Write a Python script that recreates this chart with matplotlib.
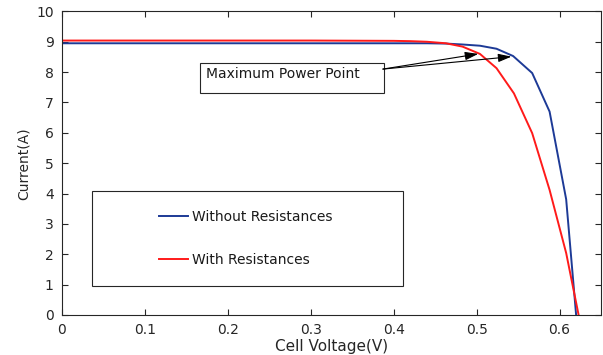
import matplotlib
matplotlib.use("Agg")
import matplotlib.pyplot as plt
from matplotlib.patches import Rectangle

# ---- data ----
v_without = [0.0, 0.1, 0.2, 0.3, 0.4, 0.44, 0.463, 0.483, 0.504, 0.524, 0.544, 0.567, 0.588, 0.608, 0.620]
i_without = [8.95, 8.95, 8.95, 8.95, 8.95, 8.95, 8.94, 8.91, 8.87, 8.77, 8.53, 7.97, 6.70, 3.81, 0.0]

v_with = [0.0, 0.1, 0.2, 0.3, 0.4, 0.42, 0.44, 0.463, 0.483, 0.504, 0.524, 0.545, 0.567, 0.588, 0.608, 0.623]
i_with = [9.04, 9.04, 9.04, 9.04, 9.03, 9.02, 9.0, 8.95, 8.84, 8.60, 8.13, 7.30, 5.99, 4.12, 2.04, 0.0]

mpp_with = (0.502, 8.60)
mpp_without = (0.542, 8.51)

x_ticks = [0, 0.1, 0.2, 0.3, 0.4, 0.5, 0.6]
x_ticklabels = ["0", "0.1", "0.2", "0.3", "0.4", "0.5", "0.6"]
y_ticks = list(range(0, 11))

labels = ["Without Resistances", "With Resistances"]
annot_text = "Maximum Power Point"

plt.rcParams['font.family'] = ['DejaVu Sans']

fig = plt.figure(figsize=(6.03, 3.55), dpi=100)
ax = fig.add_axes([62/603, 40/355, 539/603, 303.6/355])

blue = '#1d3a96'
red = '#ff1a1a'
ax.plot(v_without, i_without, color=blue, lw=1.4, label=labels[0])
ax.plot(v_with, i_with, color=red, lw=1.4, label=labels[1])

ax.set_xlim(0, 0.65)
ax.set_ylim(0, 10)
ax.set_xticks(x_ticks)
ax.set_xticklabels(x_ticklabels)
ax.set_yticks(y_ticks)
axcol = '#262626'
for s in ax.spines.values():
    s.set_color(axcol)
    s.set_linewidth(0.8)
ax.tick_params(direction='in', top=True, right=True, length=4, width=0.8,
               colors=axcol, labelsize=10, pad=6)
ax.set_xlabel("Cell Voltage(V)", fontsize=11, color=axcol, labelpad=1)
ax.set_ylabel("Current(A)", fontsize=10, color=axcol, labelpad=4)

# annotation box
ax.add_patch(Rectangle((0.166, 7.31), 0.222, 0.99, transform=ax.transData,
                       fill=False, edgecolor=axcol, lw=0.8))
ax.text(0.1735, 7.95, annot_text, fontsize=10, color='#1a1a1a',
        va='center', ha='left')
tail = (0.387, 8.10)
for tip in (mpp_with, mpp_without):
    ax.annotate("", xy=tip, xytext=tail,
                arrowprops=dict(arrowstyle='-|>,head_length=0.8,head_width=0.25',
                                color='black', lw=0.8, shrinkA=0, shrinkB=0))

# legend box
ax.add_patch(Rectangle((0.055, 0.0965), 0.578, 0.3125, transform=ax.transAxes,
                       fill=False, edgecolor=axcol, lw=0.8))
leg = ax.legend(loc='upper left', bbox_to_anchor=((159-62)/539, (315-210)/303.6),
                frameon=False, borderpad=0, borderaxespad=0, handlelength=2.1,
                handletextpad=0.3, labelspacing=2.1, fontsize=10)
for t in leg.get_texts():
    t.set_color('#1a1a1a')

fig.savefig("out.png", dpi=100)
